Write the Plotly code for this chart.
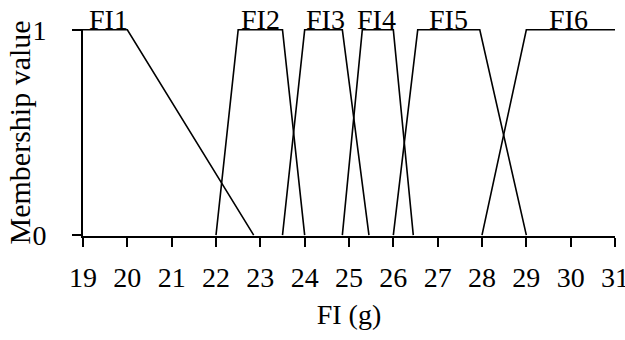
import plotly.graph_objects as go

# Membership functions (breakpoints in g, membership values)
names = ["FI1", "FI2", "FI3", "FI4", "FI5", "FI6"]
fi1_x = [19, 20, 22.85]
fi1_y = [1, 1, 0]
fi2_x = [22, 22.5, 23.5, 24]
fi2_y = [0, 1, 1, 0]
fi3_x = [23.5, 24, 24.85, 25.45]
fi3_y = [0, 1, 1, 0]
fi4_x = [24.85, 25.3, 26, 26.45]
fi4_y = [0, 1, 1, 0]
fi5_x = [26, 26.55, 27.95, 29]
fi5_y = [0, 1, 1, 0]
fi6_x = [28, 29, 31]
fi6_y = [0, 1, 1]

label_x = [19.57, 23.0, 24.47, 25.63, 27.24, 29.95]
x_ticks = list(range(19, 32))
y_ticks = [0, 1]

series = [(fi1_x, fi1_y), (fi2_x, fi2_y), (fi3_x, fi3_y),
          (fi4_x, fi4_y), (fi5_x, fi5_y), (fi6_x, fi6_y)]

FONT = "Liberation Serif, Times New Roman, serif"

fig = go.Figure()
for (xs, ys), n in zip(series, names):
    fig.add_trace(go.Scatter(x=xs, y=ys, mode="lines", name=n,
                             line=dict(color="black", width=1.6),
                             showlegend=False, cliponaxis=False, hoverinfo="skip"))

for n, lx in zip(names, label_x):
    fig.add_annotation(x=lx, y=1, text=n, showarrow=False, xanchor="center",
                       yanchor="bottom", yshift=-7,
                       font=dict(family=FONT, size=28, color="black"))

# y-axis title as a rotated annotation
fig.add_annotation(x=0, y=0.5, xref="paper", yref="paper", text="Membership value",
                   showarrow=False, textangle=-90, xanchor="center", yanchor="middle",
                   xshift=-64, font=dict(family=FONT, size=30, color="black"))

fig.update_layout(
    width=625, height=340,
    margin=dict(l=83, r=10, t=29, b=104),
    plot_bgcolor="white", paper_bgcolor="white",
    font=dict(family=FONT, size=28, color="black"),
)
fig.update_xaxes(range=[19, 31], tickvals=x_ticks, ticktext=[str(v) for v in x_ticks],
                 showgrid=False, zeroline=False, showline=True, linecolor="black",
                 linewidth=2, ticks="outside", ticklen=9, tickwidth=1.5,
                 tickcolor="black", ticklabelstandoff=6, ticklabeloverflow="allow",
                 automargin=False, tickfont=dict(family=FONT, size=28),
                 title=dict(text="FI (g)", font=dict(family=FONT, size=28), standoff=13))
fig.update_yaxes(range=[-0.004, 1.004], tickvals=y_ticks, ticktext=["0", "1"],
                 showgrid=False, zeroline=False, showline=True, linecolor="black",
                 linewidth=2, ticks="outside", ticklen=9, tickwidth=1.5,
                 tickcolor="black", ticklabelstandoff=20, ticklabelposition="outside",
                 automargin=True, tickfont=dict(family=FONT, size=28))

fig.write_html("out.html", config={"displayModeBar": False},
               post_script="document.body.style.margin='0';")
